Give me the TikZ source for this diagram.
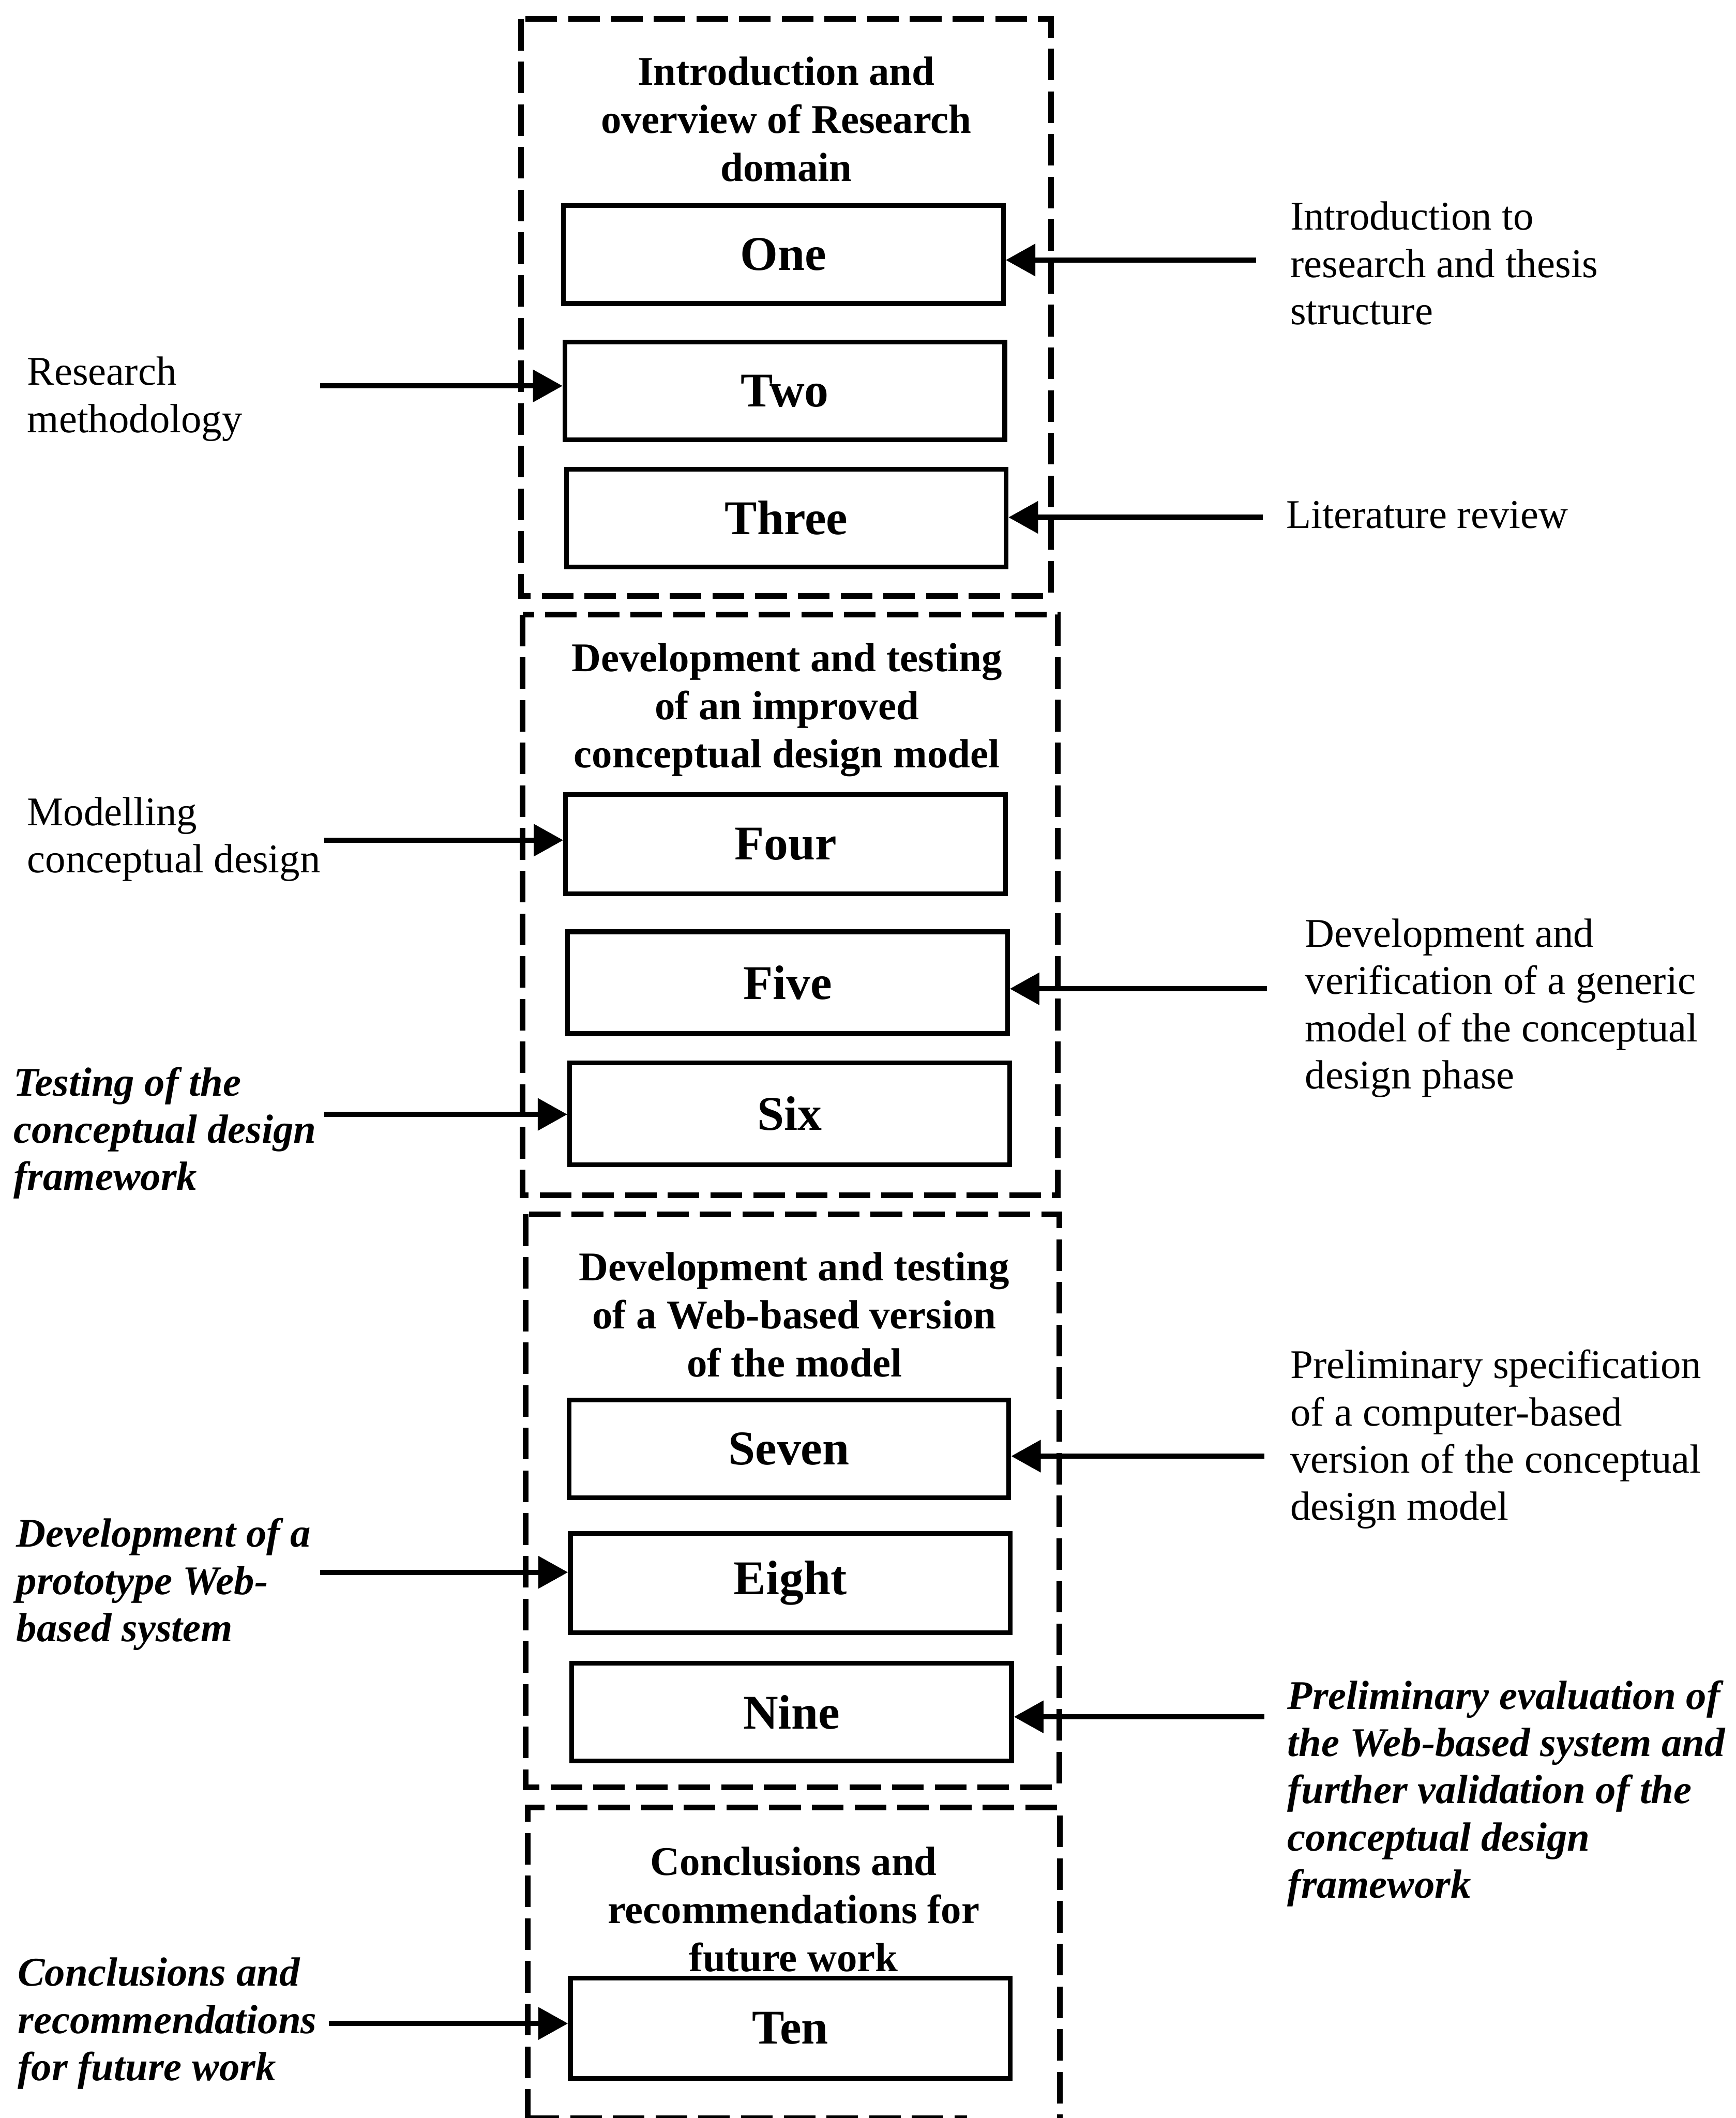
\documentclass[tikz,border=0pt]{standalone}
\usepackage{fontspec}
\setmainfont{Liberation Serif}
\usetikzlibrary{arrows.meta}

\begin{document}
\begin{tikzpicture}[x=0.4018mm, y=-0.4018mm,
  group/.style={draw, line width=4.8pt, dash pattern=on 9.4mm off 3.3mm},
  chapter/.style={draw, line width=4pt, inner sep=0pt, minimum width=130.8mm,
    font=\fontsize{41}{46}\selectfont\bfseries},
  heading/.style={inner sep=0pt, align=center, anchor=base,
    font=\fontsize{34.5}{40.7}\selectfont\bfseries},
  note/.style={inner sep=0pt, align=left, anchor=base west,
    font=\fontsize{34.5}{40}\selectfont},
  italicnote/.style={note, font=\fontsize{34.5}{40}\selectfont\bfseries\itshape},
  arr/.style={line width=4.5pt, -{Triangle[length=8.8mm,width=9.3mm]}}
]
\useasboundingbox (0,0) rectangle (1285,1568);
\clip (0,0) rectangle (1285,1568);

% chapter groups
\draw[group] (385.5,14) rectangle (778,441);
\draw[group] (387,455) rectangle (783,885);
\draw[group] (389,899) rectangle (784,1323);
\draw[group] (390.5,1570) -- (390.5,1338) -- (784.5,1338) -- (784.5,1570);
\draw[group] (390.5,1568) -- (716,1568);

% group headings (placed by the baseline of their last line)
\node[heading] (t1) at (582,134.1) {Introduction and\\overview of Research\\domain};
\node[heading] (t2) at (582.5,568.4) {Development and testing\\of an improved\\conceptual design model};
\node[heading] (t3) at (588,1019.4) {Development and testing\\of a Web-based version\\of the model};
\node[heading] (t4) at (587.5,1459.4) {Conclusions and\\recommendations for\\future work};

% chapters
\node[chapter, minimum height=29.1mm] (one)   at (580,188.5)  {One};
\node[chapter, minimum height=29.1mm] (two)   at (581,289.5)  {Two};
\node[chapter, minimum height=29.1mm] (three) at (582,383.5)  {Three};
\node[chapter, minimum height=29.5mm] (four)  at (581.5,625)  {Four};
\node[chapter, minimum height=30.3mm] (five)  at (583,727.5)  {Five};
\node[chapter, minimum height=30.3mm] (six)   at (584.5,824.5) {Six};
\node[chapter, minimum height=29.1mm] (seven) at (584,1072.5) {Seven};
\node[chapter, minimum height=29.5mm] (eight) at (585,1172)   {Eight};
\node[chapter, minimum height=29.1mm] (nine)  at (586,1267.5) {Nine};
\node[chapter, minimum height=29.9mm] (ten)   at (585,1501.5) {Ten};

% chapter descriptions (placed by the baseline of their last line)
\node[note] (l1) at (955,240.2) {Introduction to\\research and thesis\\structure};
\node[note] (l2) at (20,320.1) {Research\\methodology};
\node[note] (l3) at (952,391) {Literature review};
\node[note] (l4) at (20,646.1) {Modelling\\conceptual design};
\node[note] (l5) at (966,806) {Development and\\verification of a generic\\model of the conceptual\\design phase};
\node[italicnote] (l6) at (10,881.2) {Testing of the\\conceptual design\\framework};
\node[note] (l7) at (955,1125.4) {Preliminary specification\\of a computer-based\\version of the conceptual\\design model};
\node[italicnote] (l8) at (12,1215.2) {Development of a\\prototype Web-\\based system};
\node[italicnote] (l9) at (953,1405.2) {Preliminary evaluation of\\the Web-based system and\\further validation of the\\conceptual design\\framework};
\node[italicnote] (l10) at (13,1540.2) {Conclusions and\\recommendations\\for future work};

% arrow tails
\coordinate (s1) at (930,192.5);
\coordinate (s2) at (237,285.7);
\coordinate (s3) at (935,383);
\coordinate (s4) at (240,622);
\coordinate (s5) at (938,732);
\coordinate (s6) at (240,825);
\coordinate (s7) at (936,1078);
\coordinate (s8) at (237,1164);
\coordinate (s9) at (936,1271);
\coordinate (s10) at (243.5,1498);

\draw[arr] (s1) -- (s1 -| one.east);
\draw[arr] (s2) -- (s2 -| two.west);
\draw[arr] (s3) -- (s3 -| three.east);
\draw[arr] (s4) -- (s4 -| four.west);
\draw[arr] (s5) -- (s5 -| five.east);
\draw[arr] (s6) -- (s6 -| six.west);
\draw[arr] (s7) -- (s7 -| seven.east);
\draw[arr] (s8) -- (s8 -| eight.west);
\draw[arr] (s9) -- (s9 -| nine.east);
\draw[arr] (s10) -- (s10 -| ten.west);
\end{tikzpicture}
\end{document}
